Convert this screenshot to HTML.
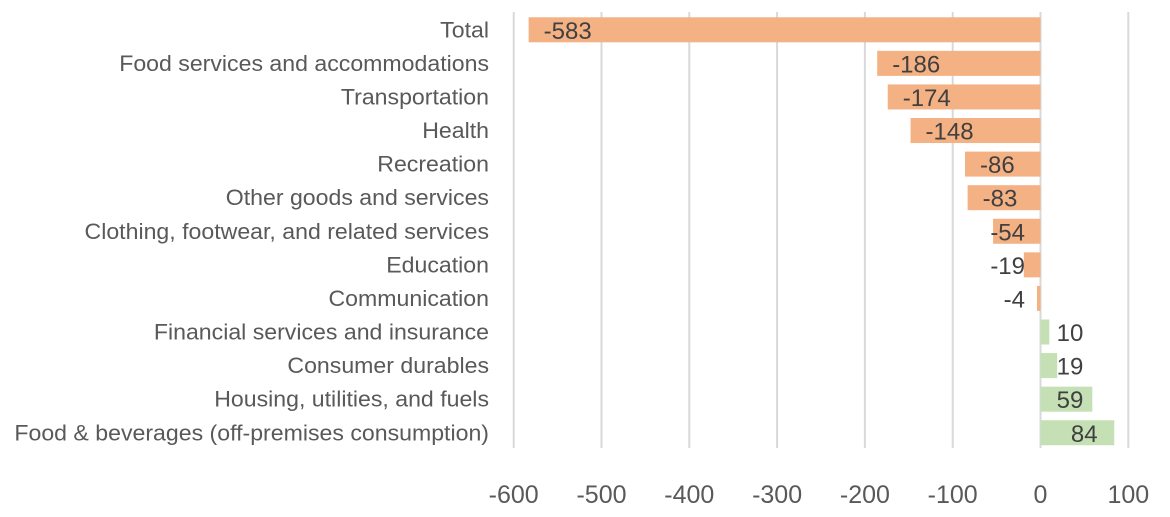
<!DOCTYPE html>
<html><head><meta charset="utf-8">
<style>
html,body{margin:0;padding:0;background:#fff;}
svg{display:block;font-family:"Liberation Sans",Calibri,sans-serif;}
</style></head>
<body>
<svg id="chart" width="1170" height="517"></svg>
<script>
const categories = ["Total","Food services and accommodations","Transportation","Health","Recreation","Other goods and services","Clothing, footwear, and related services","Education","Communication","Financial services and insurance","Consumer durables","Housing, utilities, and fuels","Food & beverages (off-premises consumption)"];
const values = [-583,-186,-174,-148,-86,-83,-54,-19,-4,10,19,59,84];
const ticks = [-600,-500,-400,-300,-200,-100,0,100];

const NS = "http://www.w3.org/2000/svg";
const svg = document.getElementById("chart");
const x0 = 1040.5, pxPer = 0.878;
function xs(v){ return x0 + v*pxPer; }
const rowTop = 13, rowH = 33.58;
function yc(i){ return rowTop + rowH*(i+0.5); }
function mk(tag, attrs){ const e=document.createElementNS(NS,tag); for(const k in attrs) e.setAttribute(k,attrs[k]); svg.appendChild(e); return e; }

ticks.forEach(t=>{
  const g = mk("line",{x1:xs(t),x2:xs(t),y1:12,y2:448,stroke:"#d9d9d9","stroke-width":2});
  
  
  const tl = mk("text",{x:xs(t),y:503,"text-anchor":"middle","font-size":25,fill:"#595959"});
  tl.textContent = t;
  
  
});

values.forEach((v,i)=>{
  const cy = yc(i);
  const l = Math.min(xs(0), xs(v)), r = Math.max(xs(0), xs(v));
  const b = mk("rect",{x:l,y:cy-12.5,width:Math.max(r-l,1),height:25,fill:v<0?"#F4B183":"#C5E0B4"});
  
  
  const c = mk("text",{x:489,y:cy+7.5,"text-anchor":"end","font-size":22,fill:"#595959"});
  c.textContent = categories[i];
  
  
  const cw = c.getComputedTextLength();
  c.setAttribute("textLength", cw*1.05);
  c.setAttribute("lengthAdjust", "spacingAndGlyphs");
  const vl = mk("text",{y:cy+9,"font-size":24,fill:"#404040"});
  vl.textContent = v;
  
  
  const w = vl.getComputedTextLength();
  let start;
  if (v < 0) { start = Math.min(l + 15, 1025 - w); }
  else { const center = Math.max(r - 30, 1070); start = center - w/2; }
  vl.setAttribute("x", start);
});
</script>
</body></html>
